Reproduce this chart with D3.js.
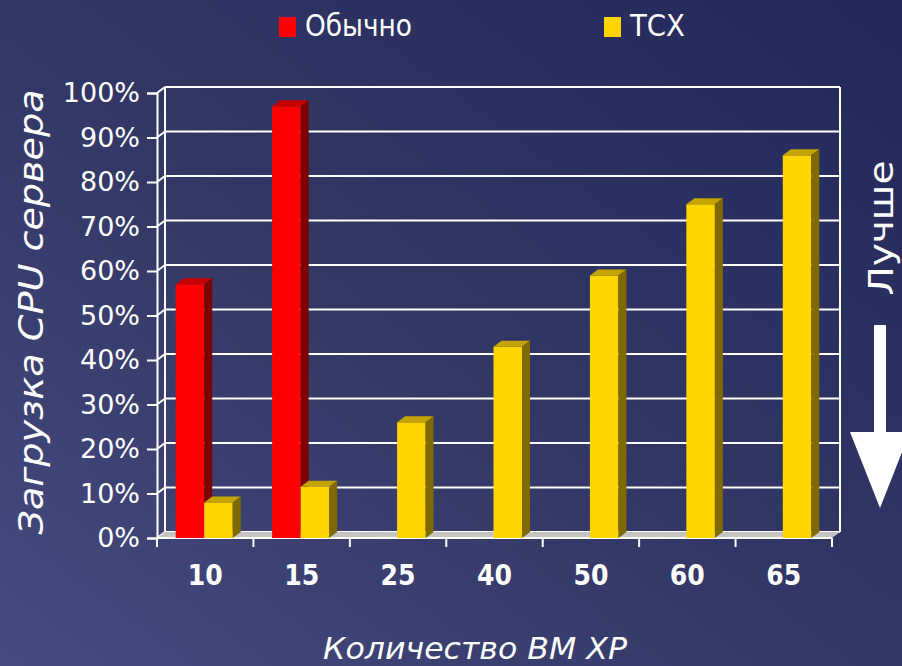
<!DOCTYPE html>
<html>
<head>
<meta charset="utf-8">
<script src="https://cdn.jsdelivr.net/npm/d3@7/dist/d3.min.js"></script>
<style>
body{margin:0;background:#2e3363;}
svg{display:block;font-family:"DejaVu Sans",Verdana,sans-serif;}
</style>
</head>
<body>
<script>
// data
const categories=["10","15","25","40","50","60","65"];
const seriesNames=["Обычно","ТСХ"];
const obychno=[57,97,null,null,null,null,null];
const tcx=[8,11.5,26,43,59,75,86];
const yTicks=[0,10,20,30,40,50,60,70,80,90,100];

const w=902,h=666;
const plotLeft=157,plotRight=832,plotBottom=538,plotTop=93;
const dx=8,dy=6;
const colors={
  "Обычно":{front:"#ff0000",top:"#c80000",side:"#7e0000"},
  "ТСХ":{front:"#ffd500",top:"#c4a400",side:"#7f6a00"}
};

const svg=d3.select("body").append("svg").attr("width",w).attr("height",h);

// background
const defs=svg.append("defs");
const grad=defs.append("linearGradient").attr("id","bg")
  .attr("x1","0").attr("y1","1").attr("x2","1").attr("y2","0");
grad.append("stop").attr("offset","0").attr("stop-color","#474b80");
grad.append("stop").attr("offset","0.45").attr("stop-color","#333866");
grad.append("stop").attr("offset","1").attr("stop-color","#23285a");
svg.append("rect").attr("width",w).attr("height",h).attr("fill","url(#bg)");

//scales
const xScale=d3.scaleBand().domain(categories).range([plotLeft,plotRight]);
const inner=d3.scaleBand().domain(seriesNames).range([-1,xScale.bandwidth()-1]).paddingOuter(0.69);
const yScale=d3.scaleLinear().domain([0,100]).range([plotBottom,plotTop]);

// walls and grid
const grid=svg.append("g").attr("stroke","#fff").attr("stroke-width",2).attr("fill","none");
grid.selectAll("line.h").data(yTicks).enter().append("line")
  .attr("x1",plotLeft+dx).attr("x2",plotRight+dx)
  .attr("y1",d=>yScale(d)-dy).attr("y2",d=>yScale(d)-dy);
grid.selectAll("line.d").data(yTicks).enter().append("line")
  .attr("x1",plotLeft).attr("x2",plotLeft+dx)
  .attr("y1",d=>yScale(d)).attr("y2",d=>yScale(d)-dy);
grid.append("line").attr("x1",plotLeft+dx).attr("x2",plotLeft+dx)
  .attr("y1",yScale(100)-dy).attr("y2",yScale(0)-dy);
grid.append("line").attr("x1",plotRight+dx).attr("x2",plotRight+dx)
  .attr("y1",yScale(100)-dy).attr("y2",yScale(0)-dy);

// floor
svg.append("polygon")
  .attr("points",[[plotLeft,plotBottom],[plotRight,plotBottom],[plotRight+dx,plotBottom-dy],[plotLeft+dx,plotBottom-dy]].join(" "))
  .attr("fill","#c4c4c4");
svg.append("line").attr("x1",plotLeft).attr("x2",plotRight).attr("y1",plotBottom).attr("y2",plotBottom)
  .attr("stroke","#fff").attr("stroke-width",2);

// bars
const rows=[];
categories.forEach((c,i)=>{
  [[seriesNames[0],obychno[i]],[seriesNames[1],tcx[i]]].forEach(([s,v])=>{
    if(v!=null) rows.push({cat:c,series:s,value:v});
  });
});
const bw=inner.bandwidth();
const bars=svg.append("g").selectAll("g").data(rows).enter().append("g");
bars.append("rect")
  .attr("x",d=>xScale(d.cat)+inner(d.series))
  .attr("y",d=>yScale(d.value))
  .attr("width",bw)
  .attr("height",d=>plotBottom-yScale(d.value))
  .attr("fill",d=>colors[d.series].front);
bars.append("polygon")
  .attr("points",d=>{
    const x=xScale(d.cat)+inner(d.series),y=yScale(d.value);
    return [[x,y],[x+dx,y-dy],[x+bw+dx,y-dy],[x+bw,y]].join(" ");
  })
  .attr("fill",d=>colors[d.series].top);
bars.append("polygon")
  .attr("points",d=>{
    const x=xScale(d.cat)+inner(d.series)+bw,y=yScale(d.value);
    return [[x,y],[x+dx,y-dy],[x+dx,plotBottom-dy],[x,plotBottom]].join(" ");
  })
  .attr("fill",d=>colors[d.series].side);

// y axis
const yAxis=d3.axisLeft(yScale).tickValues(yTicks).tickSize(10).tickPadding(7).tickFormat(d=>d+"%");
const ya=svg.append("g").attr("transform","translate("+plotLeft+",0)").call(yAxis);
ya.select(".domain").attr("stroke","#fff").attr("stroke-width",2);
ya.selectAll(".tick line").attr("stroke","#fff").attr("stroke-width",2);
ya.selectAll(".tick text").attr("fill","#fff").style("font-size","27px")
  .style("font-family","'DejaVu Sans',sans-serif");

// x ticks at band edges
const edges=categories.map(c=>xScale(c)).concat([plotRight]);
svg.append("g").selectAll("line").data(edges).enter().append("line")
  .attr("x1",d=>d).attr("x2",d=>d).attr("y1",plotBottom).attr("y2",plotBottom+9)
  .attr("stroke","#fff").attr("stroke-width",2);
svg.append("g").selectAll("text").data(categories).enter().append("text")
  .attr("x",d=>xScale(d)+xScale.bandwidth()/2)
  .attr("y",585)
  .attr("text-anchor","middle")
  .attr("fill","#fff")
  .style("font-size","28px").style("font-weight","bold")
  .attr("textLength",35).attr("lengthAdjust","spacingAndGlyphs")
  .text(d=>d);

// legend
const legX=[279,604];
const legW=[107,55];
const leg=svg.append("g").selectAll("g").data(seriesNames).enter().append("g");
leg.append("rect").attr("x",(d,i)=>legX[i]).attr("y",17).attr("width",17).attr("height",20)
  .attr("fill",d=>colors[d].front);
leg.append("text").attr("x",(d,i)=>legX[i]+26).attr("y",36)
  .attr("fill","#fff").style("font-size","30px")
  .attr("textLength",(d,i)=>legW[i]).attr("lengthAdjust","spacingAndGlyphs")
  .text(d=>d);

// axis titles
svg.append("text").attr("transform","translate(43,312) rotate(-90)")
  .attr("text-anchor","middle").attr("fill","#fff")
  .style("font-size","34px").style("font-style","italic")
  .attr("textLength",445).attr("lengthAdjust","spacingAndGlyphs")
  .text("Загрузка CPU сервера");
svg.append("text").attr("x",475).attr("y",659)
  .attr("text-anchor","middle").attr("fill","#fff")
  .style("font-size","30px").style("font-style","italic")
  .attr("textLength",304).attr("lengthAdjust","spacingAndGlyphs")
  .text("Количество ВМ ХР");

// "better" arrow
svg.append("text").attr("transform","translate(893,228) rotate(-90)")
  .attr("text-anchor","middle").attr("fill","#fff")
  .style("font-size","34px")
  .attr("textLength",135).attr("lengthAdjust","spacingAndGlyphs")
  .text("Лучше");
svg.append("rect").attr("x",874).attr("y",325).attr("width",12).attr("height",108).attr("fill","#fff");
svg.append("polygon").attr("points","850,432 910,432 880,508").attr("fill","#fff");
</script>
</body>
</html>
